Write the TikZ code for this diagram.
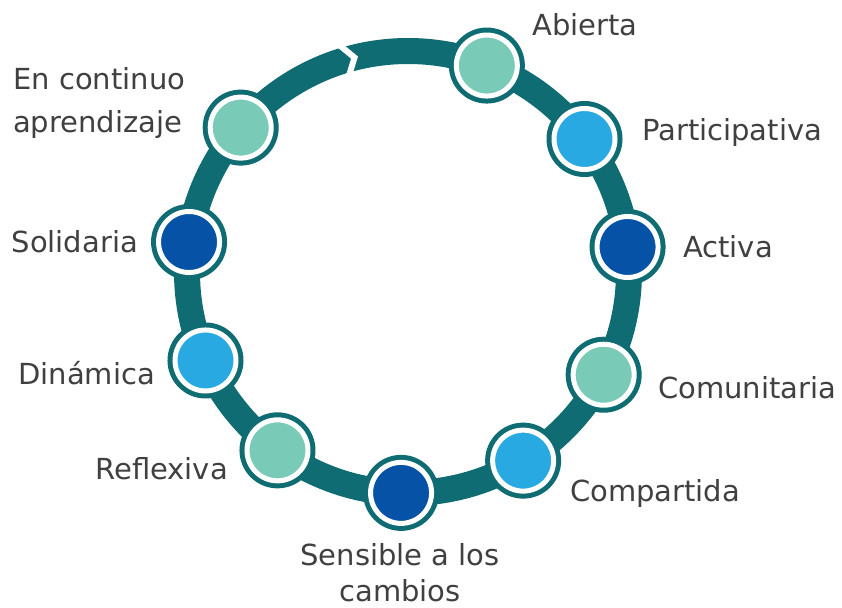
\documentclass[tikz,border=0pt]{standalone}
\usepackage{fontspec}
\setmainfont{DejaVu Sans}
\usetikzlibrary{calc}
\definecolor{ringteal}{RGB}{14,108,114}
\definecolor{lgreen}{RGB}{122,202,184}
\definecolor{lblue}{RGB}{41,169,225}
\definecolor{dblue}{RGB}{6,82,166}
\definecolor{txt}{RGB}{64,64,64}
\begin{document}
\begin{tikzpicture}[x=1pt,y=1pt,
  dot/.style={circle, inner sep=0pt, minimum size=61pt, draw=white, line width=5pt,
              preaction={draw=ringteal, line width=15pt}},
  lab/.style={inner sep=0pt, text=txt, font=\fontsize{29}{35}\selectfont}]
\path[use as bounding box] (0,0) rectangle (842,-607);
\coordinate (c) at (408,-272);
% ring
\draw[ringteal, line width=26pt] (c) circle[radius=221];
% chevron gap
\draw[white, line width=6pt, line join=miter, miter limit=10]
  ($(c)+(107.3:240)$) -- ($(c)+(104.0:221)$) -- ($(c)+(107.3:202)$);
% nodes
\node[dot, fill=lgreen] (n1)  at ($(c)+(69.1:221)$) {};
\node[dot, fill=lblue]  (n2)  at ($(c)+(37.0:221)$) {};
\node[dot, fill=dblue]  (n3)  at ($(c)+(6.5:221)$) {};
\node[dot, fill=lgreen] (n4)  at ($(c)+(-27.7:221)$) {};
\node[dot, fill=lblue]  (n5)  at ($(c)+(-58.6:221)$) {};
\node[dot, fill=dblue]  (n6)  at ($(c)+(-91.8:221)$) {};
\node[dot, fill=lgreen] (n7)  at ($(c)+(233.8:221)$) {};
\node[dot, fill=lblue]  (n8)  at ($(c)+(203.6:221)$) {};
\node[dot, fill=dblue]  (n9)  at ($(c)+(172.2:221)$) {};
\node[dot, fill=lgreen] (n10) at ($(c)+(139.2:221)$) {};
% labels
\node[lab, anchor=base west] (l1) at (532,-36) {Abierta};
\node[lab, anchor=base west] (l2) at (642,-140) {Participativa};
\node[lab, anchor=base west] (l3) at (683,-257) {Activa};
\node[lab, anchor=base west] (l4) at (658,-398) {Comunitaria};
\node[lab, anchor=base west] (l5) at (570,-501) {Compartida};
\node[lab, anchor=base] (l6a) at (400,-565) {Sensible a los};
\node[lab, anchor=base] (l6b) at (400,-601) {cambios};
\node[lab, anchor=base east] (l7) at (228,-479) {Reflexiva};
\node[lab, anchor=base east] (l8) at (155,-384) {Dinámica};
\node[lab, anchor=base east] (l9) at (138,-252) {Solidaria};
\node[lab, anchor=base west] (l10a) at (13,-90) {En continuo};
\node[lab, anchor=base west] (l10b) at (13,-132) {aprendizaje};
\end{tikzpicture}
\end{document}
